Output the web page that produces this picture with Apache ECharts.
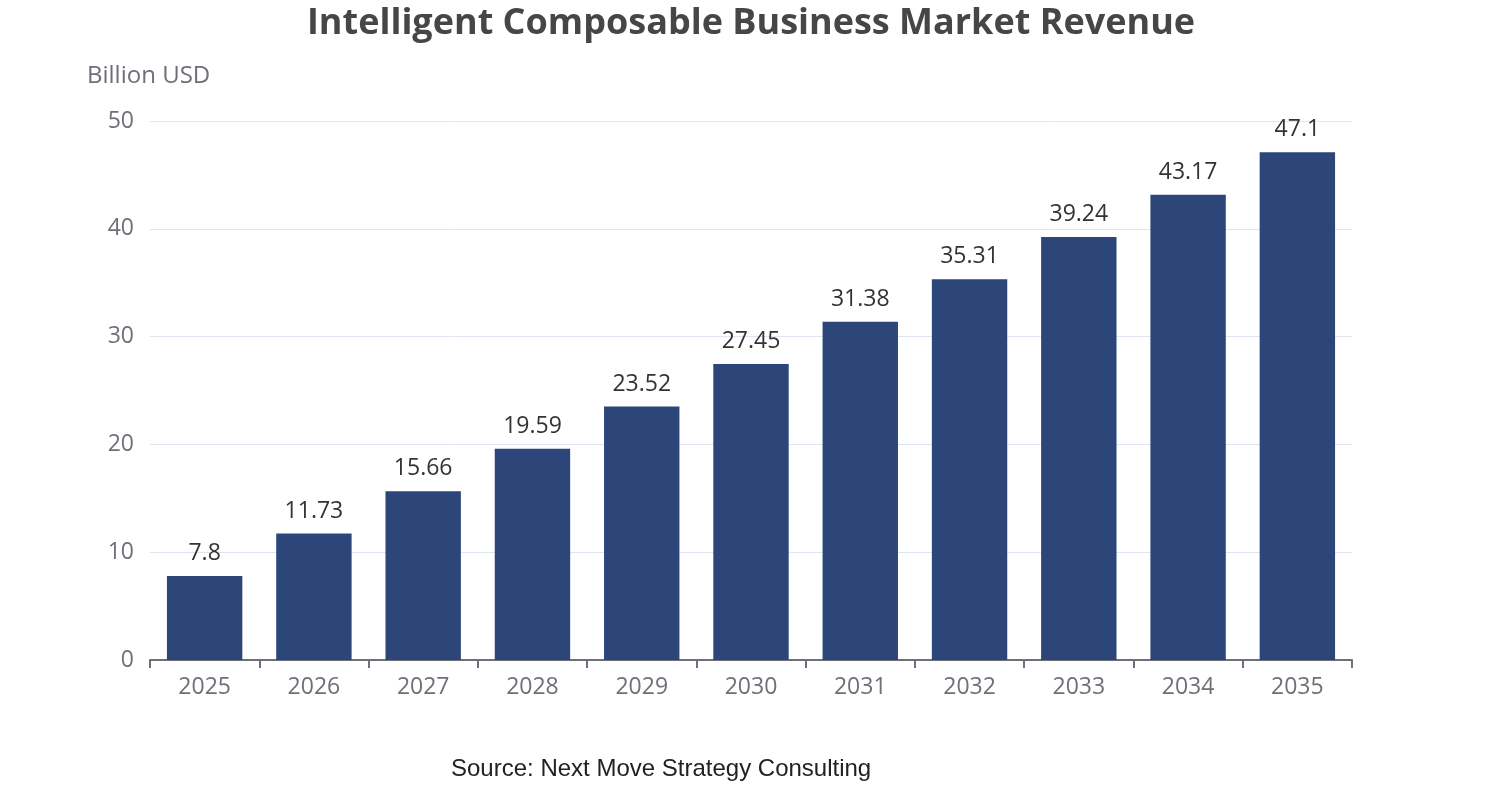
<!DOCTYPE html>
<html><head><meta charset="utf-8">
<script src="https://cdn.jsdelivr.net/npm/echarts@6/dist/echarts.min.js"></script>
<style>html,body{margin:0;padding:0;background:#fff}#c{width:1502px;height:800px}</style>
</head><body><div id="c"></div>
<script>
const categories = ['2025','2026','2027','2028','2029','2030','2031','2032','2033','2034','2035'];
const revenue = [7.8, 11.73, 15.66, 19.59, 23.52, 27.45, 31.38, 35.31, 39.24, 43.17, 47.1];
const titleText = 'Intelligent Composable Business Market Revenue';
const unitText = 'Billion USD';
const sourceText = 'Source: Next Move Strategy Consulting';
const font = '"Open Sans", "Noto Sans", sans-serif';
const chart = echarts.init(document.getElementById('c'));
chart.setOption({
  animation: false,
  title: [{
    text: titleText, left: 'center', top: 1,
    textStyle: {fontFamily: font, fontSize: 36, fontWeight: 'bold', color: '#464646'}
  }, {
    text: sourceText, left: 446, top: 752,
    textStyle: {fontFamily: '"Liberation Sans", Arial, sans-serif', fontSize: 24, fontWeight: 'normal', color: '#222'}
  }],
  grid: {left: 150, right: 150, top: 121, bottom: 140, containLabel: false},
  xAxis: {
    type: 'category', data: categories,
    axisLine: {lineStyle: {color: '#6e7079', width: 2}},
    axisTick: {show: true, length: 8, lineStyle: {color: '#6e7079', width: 2}},
    axisLabel: {fontFamily: font, fontSize: 23, color: '#6e7079', margin: 16}
  },
  yAxis: {
    type: 'value', min: 0, max: 50, interval: 10,
    name: unitText, nameLocation: 'end', nameGap: 33,
    nameTextStyle: {fontFamily: font, fontSize: 24, color: '#6e7079', align: 'left', padding: [0,0,0,-63]},
    axisLabel: {fontFamily: font, fontSize: 23, color: '#6e7079', margin: 16},
    splitLine: {lineStyle: {color: '#e0e6f1'}}
  },
  series: [{
    type: 'bar', data: revenue, barWidth: '69%',
    itemStyle: {color: '#2c467a'},
    label: {show: true, position: 'top', distance: 11, fontFamily: font, fontSize: 23, color: '#333'}
  }]
});
</script></body></html>
